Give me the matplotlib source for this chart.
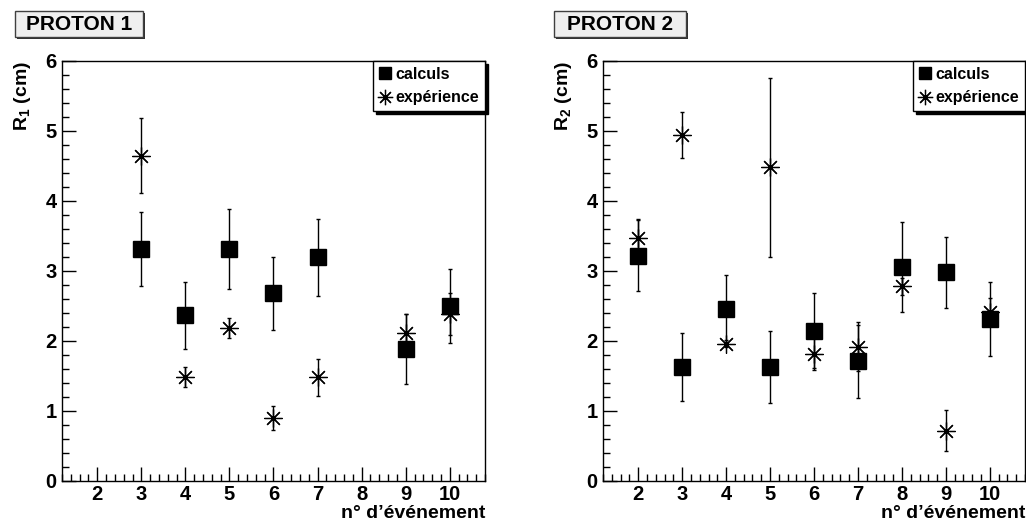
import numpy as np
import matplotlib
matplotlib.use("Agg")
import matplotlib.pyplot as plt
from matplotlib.patches import Rectangle
from matplotlib.ticker import MultipleLocator

plt.rcParams['font.family'] = ['Liberation Sans', 'DejaVu Sans']
plt.rcParams['font.weight'] = 'bold'
plt.rcParams['mathtext.fontset'] = 'custom'
plt.rcParams['mathtext.bf'] = 'Liberation Sans:bold'
plt.rcParams['mathtext.rm'] = 'Liberation Sans:bold'

# Proton 1
ev1_calc = [3, 4, 5, 6, 7, 9, 10]
r1_calc = [3.31, 2.37, 3.31, 2.68, 3.20, 1.89, 2.50]
r1_calc_err = [0.53, 0.48, 0.57, 0.52, 0.55, 0.50, 0.53]
ev1_exp = [3, 4, 5, 6, 7, 9, 10]
r1_exp = [4.65, 1.49, 2.19, 0.90, 1.48, 2.11, 2.38]
r1_exp_err = [0.53, 0.14, 0.14, 0.17, 0.26, 0.28, 0.30]

# Proton 2
ev2_calc = [2, 3, 4, 5, 6, 7, 8, 9, 10]
r2_calc = [3.22, 1.63, 2.46, 1.63, 2.15, 1.71, 3.06, 2.98, 2.32]
r2_calc_err = [0.51, 0.49, 0.49, 0.52, 0.53, 0.52, 0.64, 0.51, 0.53]
ev2_exp = [2, 3, 4, 5, 6, 7, 8, 9, 10]
r2_exp = [3.47, 4.94, 1.96, 4.48, 1.82, 1.92, 2.78, 0.72, 2.42]
r2_exp_err = [0.27, 0.33, 0.05, 1.28, 0.23, 0.35, 0.12, 0.29, 0.19]

fig = plt.figure(figsize=(10.26, 5.26), dpi=100)
W, H = 1026, 526

star = (8, 2, 0)


def panel(left_px, right_px, title, title_box, ylab, evc, rc, ec, eve, re, ee):
    ax = fig.add_axes([left_px / W, 1 - 481 / H, (right_px - left_px) / W, 420 / H])
    ax.errorbar(evc, rc, yerr=ec, fmt='none', ecolor='black', elinewidth=1, capsize=1.5)
    ax.errorbar(eve, re, yerr=ee, fmt='none', ecolor='black', elinewidth=1, capsize=1.5)
    h1, = ax.plot(evc, rc, linestyle='none', marker='s', color='black', ms=11)
    h2, = ax.plot(eve, re, linestyle='none', marker=star, color='black', ms=13, mew=0.9)
    ax.set_xlim(1.2, 10.8)
    ax.set_ylim(0, 6)
    ax.xaxis.set_minor_locator(MultipleLocator(0.2))
    ax.yaxis.set_major_locator(MultipleLocator(1))
    ax.yaxis.set_minor_locator(MultipleLocator(0.2))
    ax.set_xticks(range(2, 11))
    ax.tick_params(which='both', direction='in', top=False, right=False, labelsize=14.5,
                   width=1)
    ax.tick_params(which='major', length=10, pad=3)
    ax.tick_params(axis='y', which='major', pad=4)
    ax.tick_params(which='minor', length=5)
    for lab in ax.get_xticklabels() + ax.get_yticklabels():
        lab.set_fontweight('bold')
    for s in ax.spines.values():
        s.set_linewidth(1)
    ax.set_xlabel("n° d’événement", fontsize=14, fontweight='bold', ha='right', va='top')
    ax.xaxis.set_label_coords(1.0, -24 / 420)
    ax.set_ylabel(ylab, fontsize=14, fontweight='bold', loc='top', labelpad=9)

    leg = ax.legend([h1, h2], ['calculs', 'expérience'], loc='upper right',
                    bbox_to_anchor=(1.0, 1.0), frameon=True, fancybox=False,
                    shadow={'color': 'black', 'alpha': 1.0}, borderpad=0.35,
                    handlelength=0.8, handletextpad=0.25, borderaxespad=0,
                    labelspacing=0.55, markerscale=0.85,
                    prop={'weight': 'bold', 'size': 11.5})
    leg.get_frame().set_edgecolor('black')
    leg.get_frame().set_linewidth(1)
    leg.get_frame().set_facecolor('white')

    # title box
    x0, y0, x1, y1 = title_box
    fig.patches.append(Rectangle(((x0 + 2) / W, 1 - (y1 + 2) / H), (x1 - x0) / W, (y1 - y0) / H,
                                 transform=fig.transFigure, facecolor='#303030',
                                 edgecolor='none', zorder=1))
    fig.patches.append(Rectangle((x0 / W, 1 - y1 / H), (x1 - x0) / W, (y1 - y0) / H,
                                 transform=fig.transFigure, facecolor='#efefef',
                                 edgecolor='#404040', linewidth=1, zorder=2))
    fig.text((x0 + x1) / 2 / W, 1 - (y0 + y1) / 2 / H, title, ha='center', va='center',
             fontsize=15, fontweight='bold', zorder=3)
    return ax


panel(62, 485, 'PROTON 1', (15, 11, 143, 37), 'R$_\\mathbf{1}$ (cm)',
      ev1_calc, r1_calc, r1_calc_err, ev1_exp, r1_exp, r1_exp_err)
panel(603, 1025, 'PROTON 2', (554, 11, 686, 37), 'R$_\\mathbf{2}$ (cm)',
      ev2_calc, r2_calc, r2_calc_err, ev2_exp, r2_exp, r2_exp_err)

fig.savefig('out.png', dpi=100)
